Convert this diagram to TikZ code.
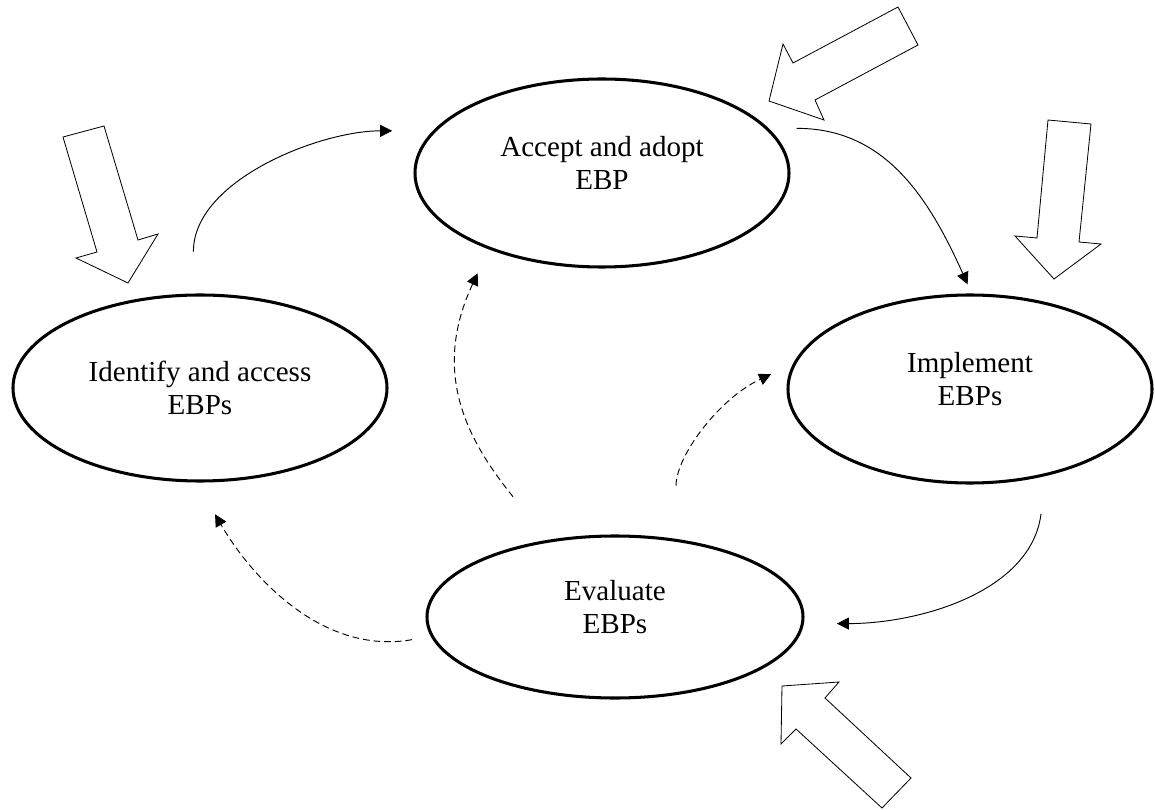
\documentclass[tikz,border=0pt]{standalone}
\usepackage{fontspec}
\setmainfont{Liberation Serif}
\usetikzlibrary{shapes.geometric,arrows.meta}

\tikzset{
  stage/.style={ellipse, draw, line width=2.6pt, inner sep=0pt, align=center,
    font=\fontsize{24.8}{28.5}\selectfont},
  lift/.style={text depth=17pt},
  flow/.style={line width=0.8pt, -{Triangle[length=3.6mm,width=3.6mm]}},
  feedback/.style={flow, dash pattern=on 2mm off 1.2mm},
  bigarrow/.style={draw, line width=0.7pt, line join=miter, fill=white}
}

\begin{document}
\begin{tikzpicture}[x=0.3mm, y=-0.3mm]
    \useasboundingbox (0,0) rectangle (1155,810);
    % the four stages
    \node[stage, minimum width=112.2mm, minimum height=55.8mm] (ident) at (200,388) {Identify and access\\EBPs};
    \node[stage, lift, minimum width=112.2mm, minimum height=56.4mm] (accept) at (602,173) {Accept and adopt\\EBP};
    \node[stage, lift, minimum width=109.2mm, minimum height=56.4mm] (impl) at (970,389) {Implement\\EBPs};
    \node[stage, lift, minimum width=112.8mm, minimum height=48.6mm] (eval) at (615,617) {Evaluate\\EBPs};

    % main cycle
    \draw[flow, shorten <=12.6mm, shorten >=12.2mm] (ident.94) to[out=90, in=180] (accept.166);
    \draw[flow, shorten <=8.4mm, shorten >=3mm] (accept.15) to[out=0, in=114, looseness=1.1] (impl.89);
    \draw[flow, shorten <=11.4mm, shorten >=9.9mm] (impl.311) to[out=-97, in=0, looseness=1.05] (eval.-2);
    % feedback from evaluation
    \draw[feedback, shorten <=5.7mm, shorten >=11mm] (eval.186) to[out=190, in=-60] (ident.268);
    \draw[feedback, shorten <=16.6mm, shorten >=7.9mm] (eval.131) to[out=129, in=-115, looseness=1.15] (accept.214);
    \draw[feedback, shorten <=16mm, shorten >=7.2mm] (eval.52) to[out=90, in=-155] (impl.172);

    % outside influences
    \draw[bigarrow] (63,137) -- (104,126) -- (138,240) -- (158,234) -- (128,283) -- (76,258) -- (97,252) -- cycle;
    \draw[bigarrow] (898,7) -- (918,45) -- (815,100) -- (824,120) -- (769,101) -- (783,44) -- (793,63) -- cycle;
    \draw[bigarrow] (1048,120) -- (1091,124) -- (1079,242) -- (1101,244) -- (1054,279) -- (1015,236) -- (1037,238) -- cycle;
    \draw[bigarrow] (782,686) -- (839,682) -- (825,698) -- (911,778) -- (882,808) -- (796,729) -- (781,744) -- cycle;
\end{tikzpicture}
\end{document}
